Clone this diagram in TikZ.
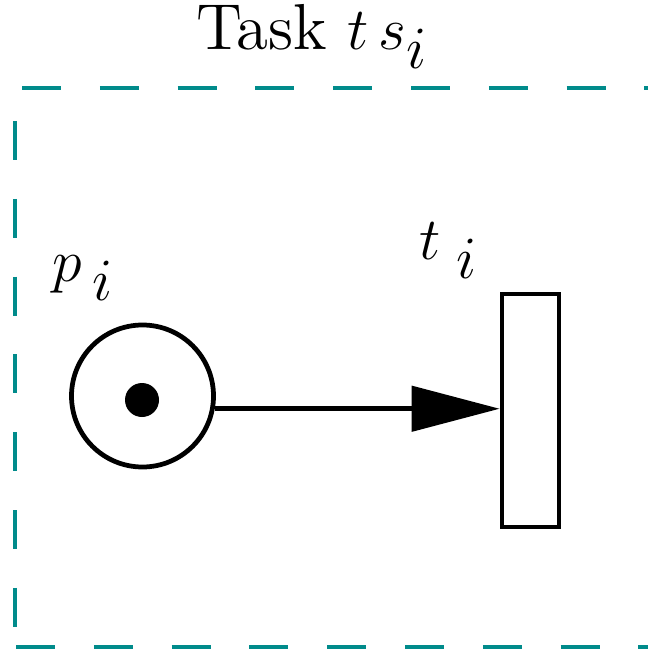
\documentclass[tikz,border=0pt]{standalone}
\usepackage{amsmath}
\usepackage{amssymb}
\usetikzlibrary{arrows.meta}

\definecolor{taskteal}{RGB}{0,139,139}
\newcommand{\lowsub}[1]{_{\textstyle #1}}

\begin{document}
\begin{tikzpicture}[x=0.2pt,y=-0.2pt,
        every node/.style={font=\fontsize{13}{15.6}\selectfont},
        place/.style={draw,circle,line width=0.95pt,minimum size=28.4pt,inner sep=0pt},
        token/.style={circle,fill,minimum size=6.8pt,inner sep=0pt},
        transition/.style={draw,rectangle,line width=0.95pt,minimum width=11.4pt,minimum height=46.6pt,inner sep=0pt},
        taskframe/.style={taskteal,line width=0.9pt,dash pattern=on 7.8pt off 7.76pt},
        arc/.style={-{Triangle[length=17.6pt,width=9pt]},line width=0.95pt}]
    \useasboundingbox (0,0) rectangle (648,650);

    % task frame, open to the right
    \draw[taskframe] (22,88) -- (648,88);
    \draw[taskframe] (15,121) -- (15,640);
    \draw[taskframe] (16,647) -- (648,647);

    \node[anchor=base west,inner sep=0pt] (title) at (195,50) {Task\hspace{4pt}$t\,s\lowsub{i}$};

    \node[place] (place) at (142.5,396) {};
    \node[token] (token) at (142,400) {};
    \node[transition] (trans) at (530.5,410.5) {};

    \node[anchor=base west,inner sep=0pt] (lblp) at (52,282) {$p\,\lowsub{i}$};
    \node[anchor=base west,inner sep=0pt] (lblt) at (418,260) {$t\;\lowsub{i}$};

    \draw[arc] (place.-10) -- (place.-10 -| trans.west);
\end{tikzpicture}
\end{document}
